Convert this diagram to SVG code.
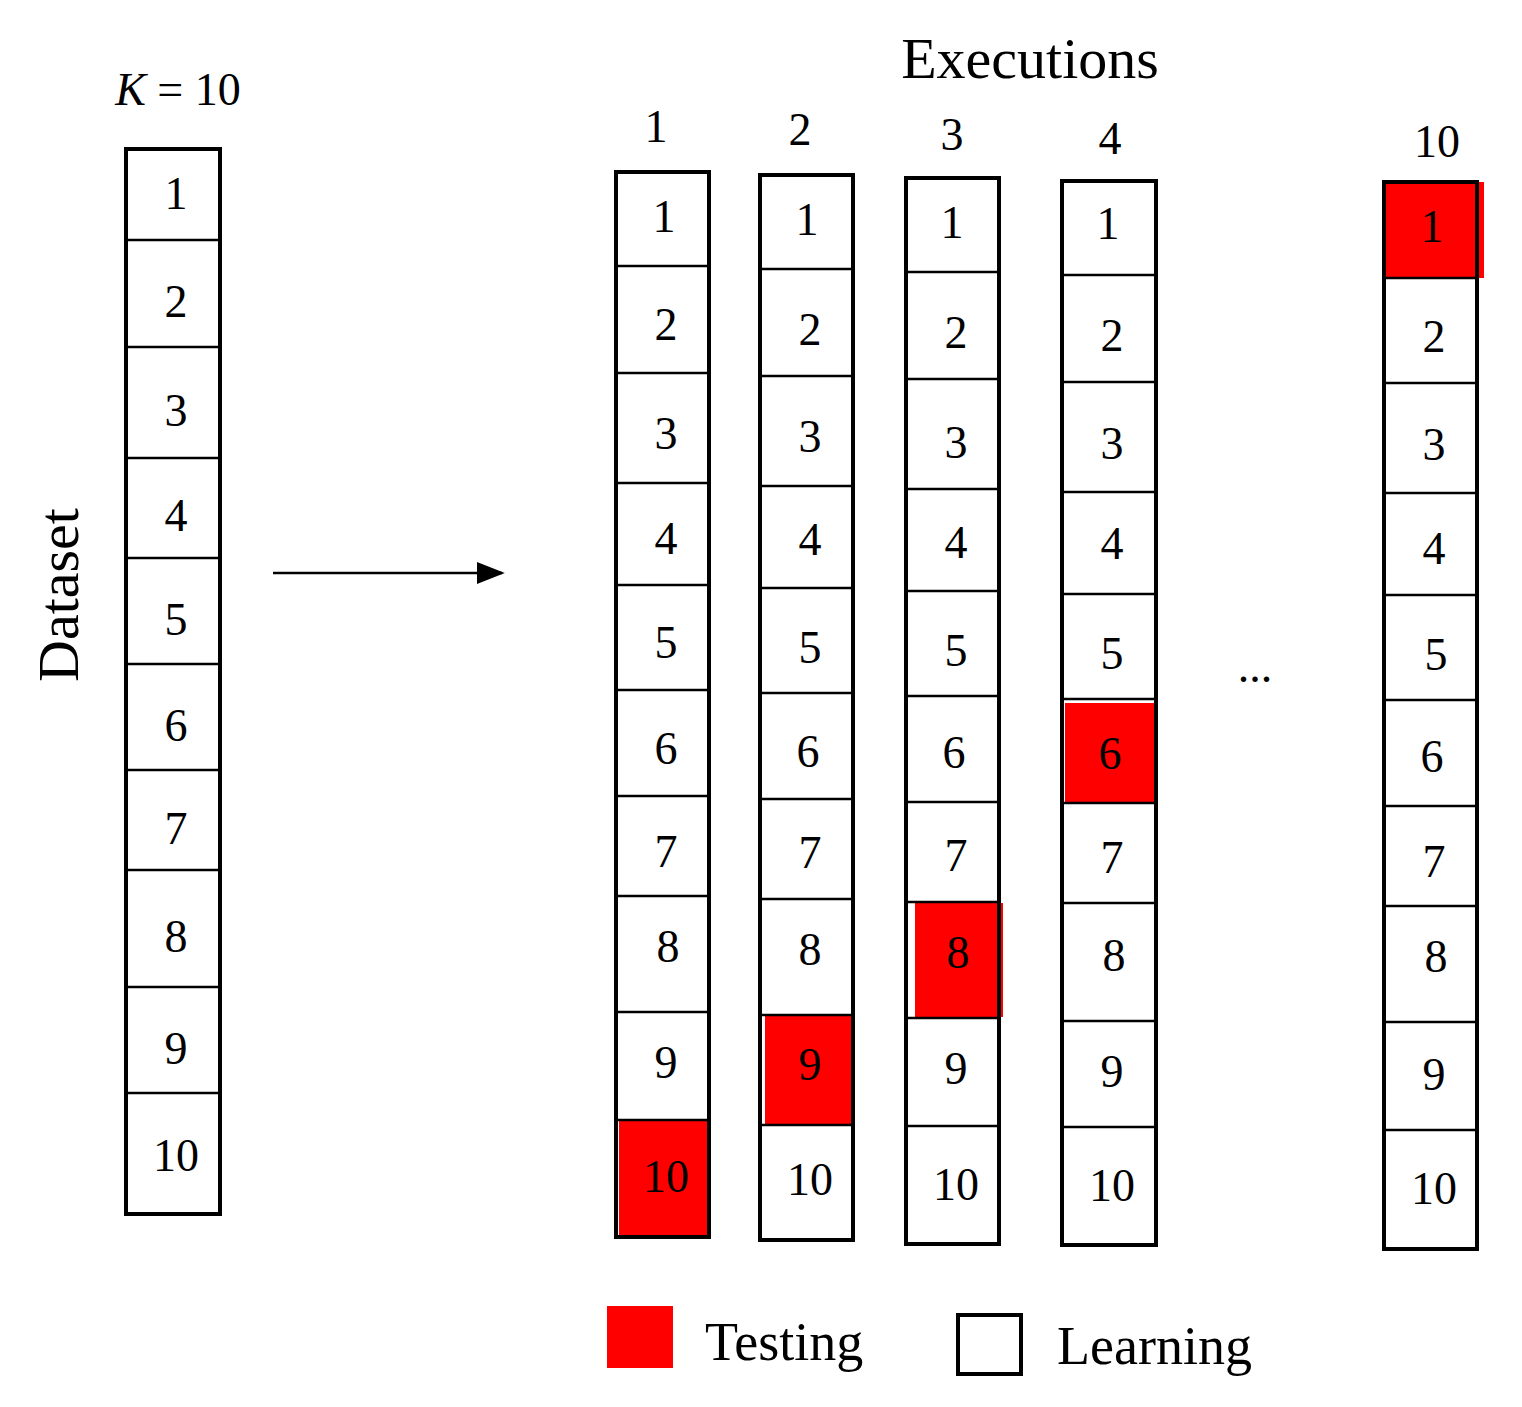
<svg xmlns="http://www.w3.org/2000/svg" width="1522" height="1407" viewBox="0 0 1522 1407">
<style>
text{font-family:"Liberation Serif","DejaVu Serif",serif;fill:#000}
.n{font-size:46px;text-anchor:middle}
.h{font-size:46px;text-anchor:middle}
.o{fill:none;stroke:#000;stroke-width:4}
.d{stroke:#000;stroke-width:2.5}
.r{fill:#f00}
</style>
<defs>
<marker id="ah" markerWidth="10" markerHeight="10" refX="9" refY="5" orient="auto" markerUnits="userSpaceOnUse" viewBox="0 0 10 10"><path d="M0,0 L10,5 L0,10 z" fill="#000"/></marker>
<marker id="a" viewBox="0 0 10 10" refX="9" refY="5" markerWidth="28" markerHeight="28" markerUnits="userSpaceOnUse" orient="auto"><path d="M0,1 L10,5 L0,9 z" fill="#000"/></marker>
</defs>
<rect width="1522" height="1407" fill="#fff"/>
<text x="178" y="105" font-size="46" text-anchor="middle"><tspan font-style="italic">K</tspan> = 10</text>
<text transform="translate(78,595) rotate(-90)" font-size="58" text-anchor="middle">Dataset</text>
<text x="1030" y="78" font-size="58" text-anchor="middle">Executions</text>
<text class="h" x="656" y="142">1</text>
<text class="h" x="800" y="145">2</text>
<text class="h" x="952" y="150">3</text>
<text class="h" x="1110" y="154">4</text>
<text class="h" x="1437" y="157">10</text>
<text x="1255" y="682" font-size="46" text-anchor="middle">...</text>

<g id="connectors"><line x1="273" y1="573" x2="502" y2="573" stroke="#000" stroke-width="2.5" marker-end="url(#a)"/></g>

<g id="dataset">
<g transform="translate(126,149)">
<rect class="o" x="0" y="0" width="94" height="1065"/>
<g class="d"><line x1="0" x2="94" y1="91" y2="91"/><line x1="0" x2="94" y1="198" y2="198"/><line x1="0" x2="94" y1="309" y2="309"/><line x1="0" x2="94" y1="409" y2="409"/><line x1="0" x2="94" y1="515" y2="515"/><line x1="0" x2="94" y1="621" y2="621"/><line x1="0" x2="94" y1="721" y2="721"/><line x1="0" x2="94" y1="838" y2="838"/><line x1="0" x2="94" y1="944" y2="944"/></g>
<text class="n" x="50" y="60">1</text><text class="n" x="50" y="168">2</text><text class="n" x="50" y="277">3</text><text class="n" x="50" y="382">4</text><text class="n" x="50" y="486">5</text><text class="n" x="50" y="592">6</text><text class="n" x="50" y="695">7</text><text class="n" x="50" y="803">8</text><text class="n" x="50" y="915">9</text><text class="n" x="50" y="1022">10</text>
</g></g>

<g id="exec1"><g transform="translate(616,172)">
<rect class="r" x="3" y="948" width="90" height="117"/>
<rect class="o" x="0" y="0" width="93" height="1065"/>
<g class="d"><line x1="0" x2="93" y1="94" y2="94"/><line x1="0" x2="93" y1="201" y2="201"/><line x1="0" x2="93" y1="311" y2="311"/><line x1="0" x2="93" y1="413" y2="413"/><line x1="0" x2="93" y1="518" y2="518"/><line x1="0" x2="93" y1="624" y2="624"/><line x1="0" x2="93" y1="724" y2="724"/><line x1="0" x2="93" y1="840" y2="840"/><line x1="0" x2="93" y1="948" y2="948"/></g>
<text class="n" x="48" y="60">1</text><text class="n" x="50" y="168">2</text><text class="n" x="50" y="277">3</text><text class="n" x="50" y="382">4</text><text class="n" x="50" y="486">5</text><text class="n" x="50" y="592">6</text><text class="n" x="50" y="695">7</text><text class="n" x="52" y="790">8</text><text class="n" x="50" y="906">9</text><text class="n" x="50" y="1020">10</text>
</g></g>

<g id="exec2"><g transform="translate(760,175)">
<rect class="r" x="5" y="840" width="86" height="110"/>
<rect class="o" x="0" y="0" width="93" height="1065"/>
<g class="d"><line x1="0" x2="93" y1="94" y2="94"/><line x1="0" x2="93" y1="201" y2="201"/><line x1="0" x2="93" y1="311" y2="311"/><line x1="0" x2="93" y1="413" y2="413"/><line x1="0" x2="93" y1="518" y2="518"/><line x1="0" x2="93" y1="624" y2="624"/><line x1="0" x2="93" y1="724" y2="724"/><line x1="0" x2="93" y1="840" y2="840"/><line x1="0" x2="93" y1="950" y2="950"/></g>
<text class="n" x="47" y="60">1</text><text class="n" x="50" y="170">2</text><text class="n" x="50" y="277">3</text><text class="n" x="50" y="380">4</text><text class="n" x="50" y="488">5</text><text class="n" x="48" y="592">6</text><text class="n" x="50" y="693">7</text><text class="n" x="50" y="790">8</text><text class="n" x="50" y="905">9</text><text class="n" x="50" y="1020">10</text>
</g></g>

<g id="exec3"><g transform="translate(906,178)">
<rect class="r" x="9" y="725" width="88" height="114"/>
<rect class="o" x="0" y="0" width="93" height="1066"/>
<g class="d"><line x1="0" x2="93" y1="94" y2="94"/><line x1="0" x2="93" y1="201" y2="201"/><line x1="0" x2="93" y1="311" y2="311"/><line x1="0" x2="93" y1="413" y2="413"/><line x1="0" x2="93" y1="518" y2="518"/><line x1="0" x2="93" y1="624" y2="624"/><line x1="0" x2="93" y1="724" y2="724"/><line x1="0" x2="93" y1="840" y2="840"/><line x1="0" x2="93" y1="948" y2="948"/></g>
<text class="n" x="46" y="60">1</text><text class="n" x="50" y="170">2</text><text class="n" x="50" y="280">3</text><text class="n" x="50" y="380">4</text><text class="n" x="50" y="488">5</text><text class="n" x="48" y="590">6</text><text class="n" x="50" y="693">7</text><text class="n" x="52" y="790">8</text><text class="n" x="50" y="906">9</text><text class="n" x="50" y="1022">10</text>
</g></g>

<g id="exec4"><g transform="translate(1062,181)">
<rect class="r" x="3" y="522" width="90" height="100"/>
<rect class="o" x="0" y="0" width="94" height="1064"/>
<g class="d"><line x1="0" x2="94" y1="94" y2="94"/><line x1="0" x2="94" y1="201" y2="201"/><line x1="0" x2="94" y1="311" y2="311"/><line x1="0" x2="94" y1="413" y2="413"/><line x1="0" x2="94" y1="518" y2="518"/><line x1="0" x2="94" y1="622" y2="622"/><line x1="0" x2="94" y1="722" y2="722"/><line x1="0" x2="94" y1="840" y2="840"/><line x1="0" x2="94" y1="946" y2="946"/></g>
<text class="n" x="46" y="58">1</text><text class="n" x="50" y="170">2</text><text class="n" x="50" y="278">3</text><text class="n" x="50" y="378">4</text><text class="n" x="50" y="488">5</text><text class="n" x="48" y="588">6</text><text class="n" x="50" y="692">7</text><text class="n" x="52" y="790">8</text><text class="n" x="50" y="906">9</text><text class="n" x="50" y="1020">10</text>
</g></g>

<g id="exec10"><g transform="translate(1384,182)">
<rect class="r" x="0" y="0" width="100" height="96"/>
<rect class="o" x="0" y="0" width="93" height="1067"/>
<g class="d"><line x1="0" x2="93" y1="96" y2="96"/><line x1="0" x2="93" y1="201" y2="201"/><line x1="0" x2="93" y1="311" y2="311"/><line x1="0" x2="93" y1="413" y2="413"/><line x1="0" x2="93" y1="518" y2="518"/><line x1="0" x2="93" y1="624" y2="624"/><line x1="0" x2="93" y1="724" y2="724"/><line x1="0" x2="93" y1="840" y2="840"/><line x1="0" x2="93" y1="948" y2="948"/></g>
<text class="n" x="48" y="60">1</text><text class="n" x="50" y="170">2</text><text class="n" x="50" y="278">3</text><text class="n" x="50" y="382">4</text><text class="n" x="52" y="488">5</text><text class="n" x="48" y="590">6</text><text class="n" x="50" y="695">7</text><text class="n" x="52" y="790">8</text><text class="n" x="50" y="908">9</text><text class="n" x="50" y="1022">10</text>
</g></g>

<g id="legend">
<rect x="607" y="1306" width="66" height="62" fill="#f00"/>
<text x="705" y="1360" font-size="54">Testing</text>
<rect x="958" y="1315" width="63" height="59" fill="#fff" stroke="#000" stroke-width="4"/>
<text x="1057" y="1364" font-size="54">Learning</text>
</g>
</svg>
